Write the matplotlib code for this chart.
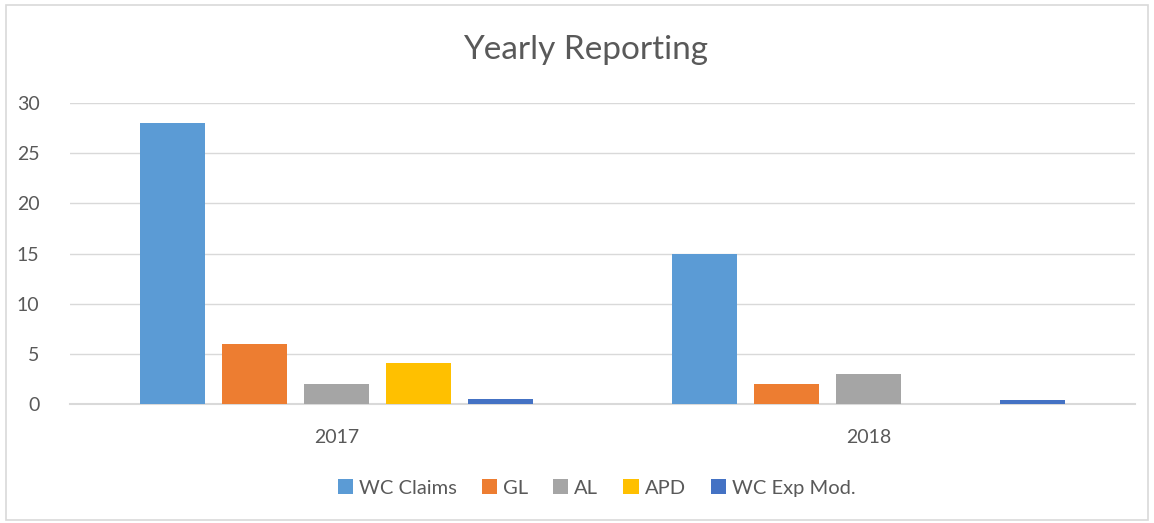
import matplotlib.pyplot as plt
import numpy as np
from matplotlib.patches import Rectangle

plt.rcParams['font.family'] = ['Lato', 'DejaVu Sans']

# data
years = ['2017', '2018']
series_names = ['WC Claims', 'GL', 'AL', 'APD', 'WC Exp Mod.']
wc_claims = [28, 15]
gl = [6, 2]
al = [2, 3]
apd = [4.1, 0]
wc_exp_mod = [0.47, 0.38]
series_values = [wc_claims, gl, al, apd, wc_exp_mod]
colors = ['#5B9BD5', '#ED7D31', '#A5A5A5', '#FFC000', '#4472C4']

text_color = '#595959'
grid_color = '#D9D9D9'

fig = plt.figure(figsize=(11.54, 5.23), dpi=100)
# outer chart border
fig.patches.append(Rectangle((6 / 1154, 3 / 523), 1142 / 1154, 515 / 523,
                             transform=fig.transFigure, fill=False,
                             edgecolor='#D9D9D9', linewidth=1.2))

ax = fig.add_axes([0.0607, 0.2275, 0.9228, 0.5755])

bar_w = 0.122
step = 0.154
x = np.arange(len(years))
for i, (name, vals) in enumerate(zip(series_names, series_values)):
    offs = (i - 2) * step
    ax.bar(x + offs, vals, width=bar_w, color=colors[i], label=name, zorder=3)

ax.set_xlim(-0.5, 1.5)
ax.set_ylim(0, 30)
ax.set_yticks(range(0, 31, 5))
ax.set_xticks(x)
ax.set_xticklabels(years)
ax.yaxis.grid(True, color=grid_color, linewidth=1, zorder=0)
ax.tick_params(length=0, labelsize=14, labelcolor=text_color)
ax.tick_params(axis='x', pad=18)
ax.tick_params(axis='y', pad=22)
for s in ['top', 'right', 'left']:
    ax.spines[s].set_visible(False)
ax.spines['bottom'].set_color(grid_color)
ax.spines['bottom'].set_linewidth(1.5)

fig.text(0.507, 0.905, 'Yearly Reporting', ha='center', va='center',
         fontsize=24, color=text_color)

leg = fig.legend(loc='center', bbox_to_anchor=(0.517, 0.067), ncol=5,
                 frameon=False, fontsize=14.5, handlelength=0.75, handleheight=0.75,
                 handletextpad=0.3, columnspacing=1.25)
for t in leg.get_texts():
    t.set_color(text_color)

fig.savefig('out.png', dpi=100, facecolor='white')
